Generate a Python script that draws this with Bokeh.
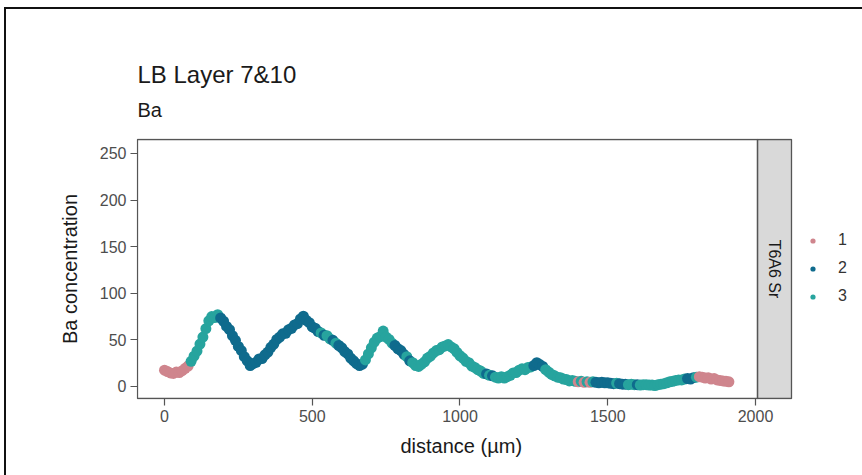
import math
from bokeh.plotting import figure
from bokeh.models import (ColumnDataSource, FixedTicker, Range1d, Title, Legend,
                          LegendItem, InlineStyleSheet)
from bokeh.transform import factor_cmap
from bokeh.core.properties import value
from bokeh.embed import file_html
from bokeh.resources import INLINE

# ---------------- data ----------------
distance = [
    0, 10, 20, 30, 40, 50, 60, 70, 80, 90,
    100, 110, 120, 130, 140, 150, 160, 170, 180, 190,
    200, 210, 220, 230, 240, 250, 260, 270, 280, 290,
    300, 310, 320, 330, 340, 350, 360, 370, 380, 390,
    400, 410, 420, 430, 440, 450, 460, 470, 480, 490,
    500, 510, 520, 530, 540, 550, 560, 570, 580, 590,
    600, 610, 620, 630, 640, 650, 660, 670, 680, 690,
    700, 710, 720, 730, 740, 750, 760, 770, 780, 790,
    800, 810, 820, 830, 840, 850, 860, 870, 880, 890,
    900, 910, 920, 930, 940, 950, 960, 970, 980, 990,
    1000, 1010, 1020, 1030, 1040, 1050, 1060, 1070, 1080, 1090,
    1100, 1110, 1120, 1130, 1140, 1150, 1160, 1170, 1180, 1190,
    1200, 1210, 1220, 1230, 1240, 1250, 1260, 1270, 1280, 1290,
    1300, 1310, 1320, 1330, 1340, 1350, 1360, 1370, 1380, 1390,
    1400, 1410, 1420, 1430, 1440, 1450, 1460, 1470, 1480, 1490,
    1500, 1510, 1520, 1530, 1540, 1550, 1560, 1570, 1580, 1590,
    1600, 1610, 1620, 1630, 1640, 1650, 1660, 1670, 1680, 1690,
    1700, 1710, 1720, 1730, 1740, 1750, 1760, 1770, 1780, 1790,
    1800, 1810, 1820, 1830, 1840, 1850, 1860, 1870, 1880, 1890,
    1900, 1910,
]
ba = [
    17.5, 16.0, 14.5, 14.0, 15.5, 15.0, 17.0, 19.5, 22.0, 27.0,
    32.5, 38.0, 45.5, 53.0, 62.0, 70.5, 75.0, 74.0, 77.0, 73.5,
    70.0, 64.5, 61.0, 54.5, 49.5, 43.0, 38.5, 32.0, 27.5, 22.5,
    24.5, 26.0, 29.5, 30.0, 34.0, 37.0, 42.0, 45.5, 50.5, 53.0,
    56.5, 57.0, 61.0, 62.5, 66.0, 67.5, 72.5, 75.5, 71.0, 68.5,
    64.0, 62.5, 59.0, 57.5, 55.0, 54.5, 51.0, 49.5, 46.5, 44.0,
    41.5, 37.5, 35.0, 30.5, 27.5, 24.5, 22.5, 24.0, 28.5, 35.0,
    41.5, 47.5, 52.0, 53.5, 59.5, 53.0, 50.5, 46.5, 44.0, 40.5,
    38.5, 34.5, 32.0, 27.5, 25.5, 22.5, 21.5, 24.0, 26.5, 30.5,
    32.5, 36.0, 38.5, 39.5, 42.5, 43.5, 45.0, 42.5, 40.5, 36.5,
    33.0, 30.5, 27.0, 25.5, 22.0, 20.5, 18.0, 16.5, 14.0, 13.5,
    12.0, 11.5, 10.0, 9.0, 10.5, 9.0, 10.5, 12.0, 14.5, 15.0,
    17.5, 19.0, 18.0, 20.5, 21.0, 22.5, 25.5, 23.5, 21.5, 18.0,
    15.5, 13.0, 11.5, 10.0, 9.5, 8.0, 7.5, 6.0, 6.5, 5.5,
    5.0, 5.5, 4.5, 5.0, 4.5, 5.0, 4.5, 4.0, 4.5, 4.0,
    4.0, 3.5, 3.0, 3.5, 3.0, 2.5, 2.5, 2.0, 2.5, 2.0,
    2.0, 1.5, 2.0, 2.0, 1.5, 1.5, 1.0, 2.0, 2.5, 3.0,
    4.0, 5.0, 5.5, 6.5, 7.0, 7.0, 8.0, 8.5, 8.0, 9.5,
    10.0, 10.5, 10.0, 9.0, 9.5, 8.0, 8.5, 7.0, 6.5, 6.0,
    5.5, 5.0,
]
cluster = [
    "1", "1", "1", "1", "1", "1", "1", "1", "1", "3",
    "3", "3", "3", "3", "3", "3", "3", "3", "3", "2",
    "2", "2", "2", "2", "2", "2", "2", "2", "2", "2",
    "2", "2", "2", "2", "2", "2", "2", "2", "2", "2",
    "2", "2", "2", "2", "2", "2", "2", "2", "2", "2",
    "2", "2", "2", "3", "2", "3", "3", "2", "3", "2",
    "2", "2", "2", "2", "2", "2", "2", "2", "3", "3",
    "3", "3", "3", "3", "3", "3", "3", "3", "2", "2",
    "2", "2", "3", "2", "3", "3", "3", "3", "3", "3",
    "3", "3", "3", "3", "3", "3", "3", "3", "3", "3",
    "3", "3", "3", "3", "3", "3", "3", "3", "3", "2",
    "3", "2", "3", "3", "3", "3", "3", "3", "3", "3",
    "3", "3", "3", "3", "3", "2", "2", "2", "2", "3",
    "3", "3", "3", "3", "3", "3", "3", "3", "3", "3",
    "1", "3", "1", "3", "1", "3", "2", "2", "2", "2",
    "2", "2", "2", "3", "2", "2", "2", "3", "3", "3",
    "2", "3", "3", "3", "3", "3", "3", "3", "3", "3",
    "3", "3", "3", "3", "3", "3", "3", "2", "2", "2",
    "3", "1", "1", "1", "1", "1", "1", "1", "1", "1",
    "1", "1",
]
cluster_levels = ["1", "2", "3"]
cluster_colors = ["#cf858d", "#0f6b8d", "#27a49e"]

x_ticks = [0, 500, 1000, 1500, 2000]
y_ticks = [0, 50, 100, 150, 200, 250]

title_text = "LB Layer 7&10"
subtitle_text = "Ba"
strip_text = "T6A6 Sr"
x_label = "distance (\u00b5m)"
y_label = "Ba concentration"

# ---------------- layout ----------------
FONT = "Liberation Sans"
# plotting frame spans the panel, the facet strip and the legend area
x_lo, x_hi = -94.75, 2362.1
y_lo, y_hi = -13.95, 266.09
# panel (ggplot) limits and strip limits in data units
panel_x0, panel_x1 = -91.4, 2006.8
panel_y0, panel_y1 = -12.9, 265.0
strip_x1 = 2121.8
BORDER = "#555555"

p = figure(
    width=862, height=475,
    frame_width=726, frame_height=261,
    x_range=Range1d(x_lo, x_hi), y_range=Range1d(y_lo, y_hi),
    output_backend="svg", toolbar_location=None,
    min_border_left=136, min_border_right=0,
    min_border_top=138, min_border_bottom=76,
)
p.background_fill_color = "white"
p.border_fill_color = "white"
p.outline_line_color = None
p.xgrid.grid_line_color = None
p.ygrid.grid_line_color = None

for ax in (p.xaxis[0], p.yaxis[0]):
    ax.axis_line_color = None
    ax.major_tick_line_color = BORDER
    ax.major_tick_line_width = 1.2
    ax.major_tick_in = 1
    ax.major_tick_out = 6
    ax.minor_tick_line_color = None
    ax.major_label_text_font = FONT
    ax.major_label_text_font_size = "16px"
    ax.major_label_text_color = "#4d4d4d"
    ax.axis_label_text_font = FONT
    ax.axis_label_text_font_size = "20px"
    ax.axis_label_text_font_style = "normal"
    ax.axis_label_text_color = "#1a1a1a"

p.xaxis[0].ticker = FixedTicker(ticks=x_ticks)
p.yaxis[0].ticker = FixedTicker(ticks=y_ticks)
p.yaxis[0].axis_label = y_label
p.yaxis[0].axis_label_standoff = 16
p.xaxis[0].major_label_standoff = 4
p.yaxis[0].major_label_standoff = 4

# x axis title, centred under the panel (not under the whole frame)
p.add_layout(Title(text=x_label, text_font=FONT, text_font_size="20px",
                   text_font_style="normal", text_color="#1a1a1a",
                   align="left", offset=264, standoff=16), "below")

# facet strip on the right
p.quad(left=panel_x1, right=strip_x1, bottom=panel_y0, top=panel_y1,
       fill_color="#d9d9d9", line_color=BORDER, line_width=1.3)
p.text(x=[(panel_x1 + strip_x1) / 2], y=[(panel_y0 + panel_y1) / 2],
       text=[strip_text], angle=-math.pi / 2, text_align="center",
       text_baseline="middle", text_font=value(FONT),
       text_font_size="16px", text_color="#1a1a1a")

# data points
src = ColumnDataSource(dict(distance=distance, ba=ba, cluster=cluster))
r = p.scatter("distance", "ba", source=src, size=11, line_color=None,
              fill_color=factor_cmap("cluster", cluster_colors, cluster_levels))

# panel border on top
p.quad(left=panel_x0, right=panel_x1, bottom=panel_y0, top=panel_y1,
       fill_color=None, line_color=BORDER, line_width=1.3)

items = [LegendItem(label=lvl, renderers=[r], index=cluster.index(lvl))
         for lvl in cluster_levels]
leg = Legend(items=items, location=(670, 94), orientation="vertical")
leg.padding = 0
leg.margin = 0
leg.border_line_color = None
leg.background_fill_alpha = 0
leg.glyph_width = 13
leg.glyph_height = 13
leg.label_height = 13
leg.spacing = 10
leg.label_standoff = 19
leg.label_text_font = FONT
leg.label_text_font_size = "16px"
leg.label_text_color = "#333333"
p.add_layout(leg, "center")

# titles (stacked above the frame; first added sits closest to the frame)
p.title.text = ""
p.add_layout(Title(text=" ", text_font_size="1px", standoff=15), "above")
p.add_layout(Title(text=subtitle_text, text_font=FONT, text_font_size="20px",
                   text_font_style="normal", text_color="#1a1a1a",
                   standoff=0, align="left", offset=1), "above")
p.add_layout(Title(text=title_text, text_font=FONT, text_font_size="24px",
                   text_font_style="normal", text_color="#1a1a1a",
                   standoff=18, align="left", offset=1), "above")

# black screenshot frame (top and left edges)
p.stylesheets = [InlineStyleSheet(css=(
    ":host::after { content: ''; position: absolute; left: 4px; top: 7px; "
    "right: 0px; bottom: 0px; border-top: 2px solid #111; "
    "border-left: 2px solid #111; pointer-events: none; z-index: 10; }"))]

open("out.html", "w").write(file_html(p, INLINE))
